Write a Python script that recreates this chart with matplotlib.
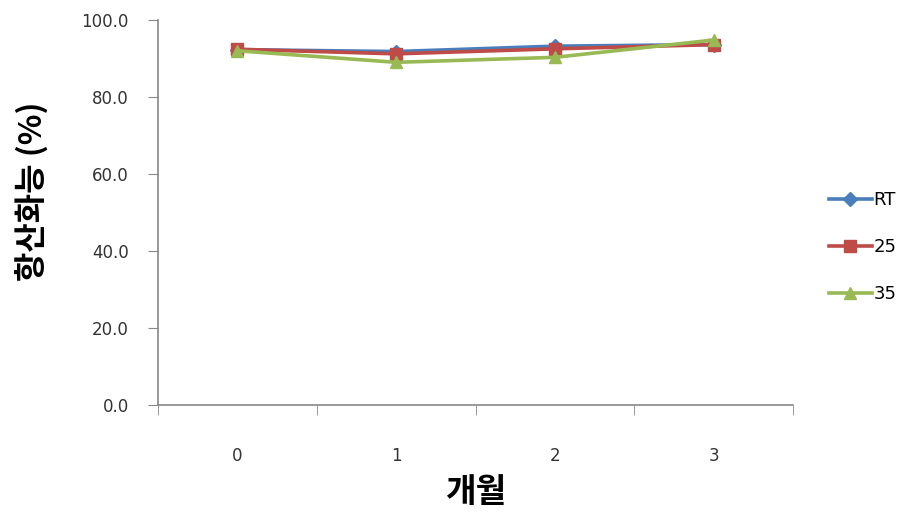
import matplotlib
matplotlib.use("Agg")
import matplotlib.pyplot as plt
import numpy as np

plt.rcParams['font.family'] = ['Noto Sans CJK KR', 'DejaVu Sans']

# months and antioxidant activity (%) per storage temperature
months = ["0", "1", "2", "3"]
rt_values = [92.3, 91.8, 93.2, 93.6]
t25_values = [92.4, 91.2, 92.5, 93.6]
t35_values = [92.0, 89.0, 90.3, 94.8]

series = [
    ("RT", rt_values, "#4a7ebb", "D", 7),
    ("25", t25_values, "#be4b48", "s", 8.5),
    ("35", t35_values, "#98b954", "^", 9),
]

fig = plt.figure(figsize=(9.16, 5.12), dpi=100)
ax = fig.add_axes([0.1725, 0.209, 0.866 - 0.1725, 0.961 - 0.209])

x = np.arange(len(months))
for name, vals, color, marker, ms in series:
    ax.plot(x, vals, color=color, linewidth=2.6, marker=marker,
            markersize=ms, markerfacecolor=color, markeredgecolor=color,
            label=name)

ax.set_xlim(-0.5, len(months) - 0.5)
ax.set_ylim(0, 100)

tick_font = dict(family="DejaVu Sans", size=12, color="#333333")

# category axis: labels centred, ticks on the boundaries
ax.set_xticks(x)
ax.set_xticklabels(months, **tick_font)
ax.tick_params(axis="x", which="major", length=0, pad=30)
ax.set_xticks(np.arange(-0.5, len(months)), minor=True)
ax.tick_params(axis="x", which="minor", length=7, color="#888888", direction="out")

yt = np.arange(0, 101, 20)
ax.set_yticks(yt)
ax.set_yticklabels([f"{v:.1f}" for v in yt], **tick_font)
ax.tick_params(axis="y", length=7, color="#888888", direction="out", pad=14)

for side in ("top", "right"):
    ax.spines[side].set_visible(False)
for side in ("left", "bottom"):
    ax.spines[side].set_color("#888888")
    ax.spines[side].set_linewidth(1.2)

ax.set_ylabel("항산화능 (%)", fontsize=23, fontweight="bold")
ax.yaxis.set_label_coords(-0.172, 0.555)
ax.set_xlabel("개월", fontsize=24, fontweight="bold", labelpad=8)

leg = ax.legend(loc="center left", bbox_to_anchor=(1.03, 0.41), frameon=False,
                prop=dict(family="DejaVu Sans", size=13), handlelength=2.4,
                labelspacing=1.6, handletextpad=0.1)

fig.savefig("out.png", dpi=100)
